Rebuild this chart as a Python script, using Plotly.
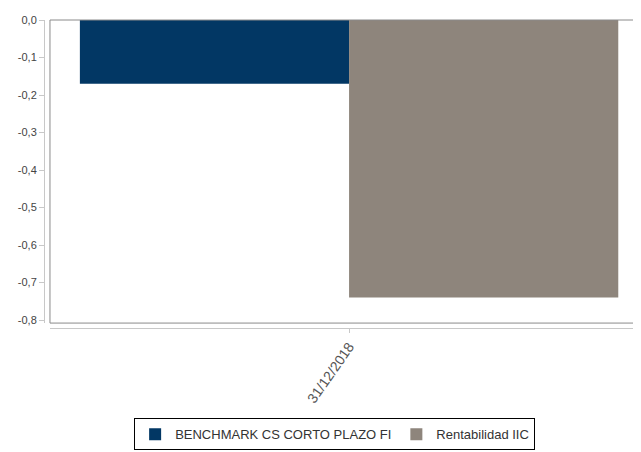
import plotly.graph_objects as go

categories = ["31/12/2018"]
series_names = ["BENCHMARK CS CORTO PLAZO FI", "Rentabilidad IIC"]
benchmark = [-0.17]
rentabilidad = [-0.74]
y_ticks = [0.0, -0.1, -0.2, -0.3, -0.4, -0.5, -0.6, -0.7, -0.8]
y_tick_labels = ["0,0", "-0,1", "-0,2", "-0,3", "-0,4", "-0,5", "-0,6", "-0,7", "-0,8"]
colors = ["#023764", "#8E857C"]

fig = go.Figure()
fig.add_trace(go.Bar(x=categories, y=benchmark, name=series_names[0],
                     marker=dict(color=colors[0], line=dict(width=0))))
fig.add_trace(go.Bar(x=categories, y=rentabilidad, name=series_names[1],
                     marker=dict(color=colors[1], line=dict(width=0))))

# the page body has an 8px margin, so the figure is sized/offset to compensate
fig.update_layout(
    width=633, height=444,
    margin=dict(l=36, r=0, t=12, b=124, autoexpand=False),
    paper_bgcolor="white", plot_bgcolor="white",
    barmode="group", bargap=0.1, bargroupgap=0,
    font=dict(family="Liberation Sans, Arial, sans-serif", size=11, color="#444444"),
    xaxis=dict(domain=[0.01, 1], range=[-0.5, 0.488], anchor="free", position=0,
               automargin=False,
               showline=True, linecolor="#c8c8c8", linewidth=1,
               ticks="outside", ticklen=4, tickcolor="#c8c8c8",
               tickangle=-55, showgrid=False, zeroline=False,
               tickfont=dict(size=14, color="#555555")),
    yaxis=dict(domain=[0.016, 1], range=[-0.808, 0], anchor="free", position=0,
               automargin=False,
               tickvals=y_ticks, ticktext=y_tick_labels,
               showline=True, linecolor="#c8c8c8", linewidth=1,
               ticks="outside", ticklen=5, tickcolor="#c8c8c8",
               showgrid=False, zeroline=False,
               tickfont=dict(size=11, color="#444444")),
    legend=dict(orientation="h", xref="container", yref="container",
                x=0.516, y=0.004, xanchor="center", yanchor="bottom",
                bordercolor="#000000", borderwidth=1, bgcolor="white",
                font=dict(size=13, color="#333333"),
                itemwidth=30, tracegroupgap=0),
    showlegend=True,
)

fig.add_shape(type="rect", xref="x domain", yref="y domain", x0=0, x1=1, y0=0, y1=1,
              line=dict(color="#8a8a8a", width=1), layer="above")

fig.write_html("out.html")
